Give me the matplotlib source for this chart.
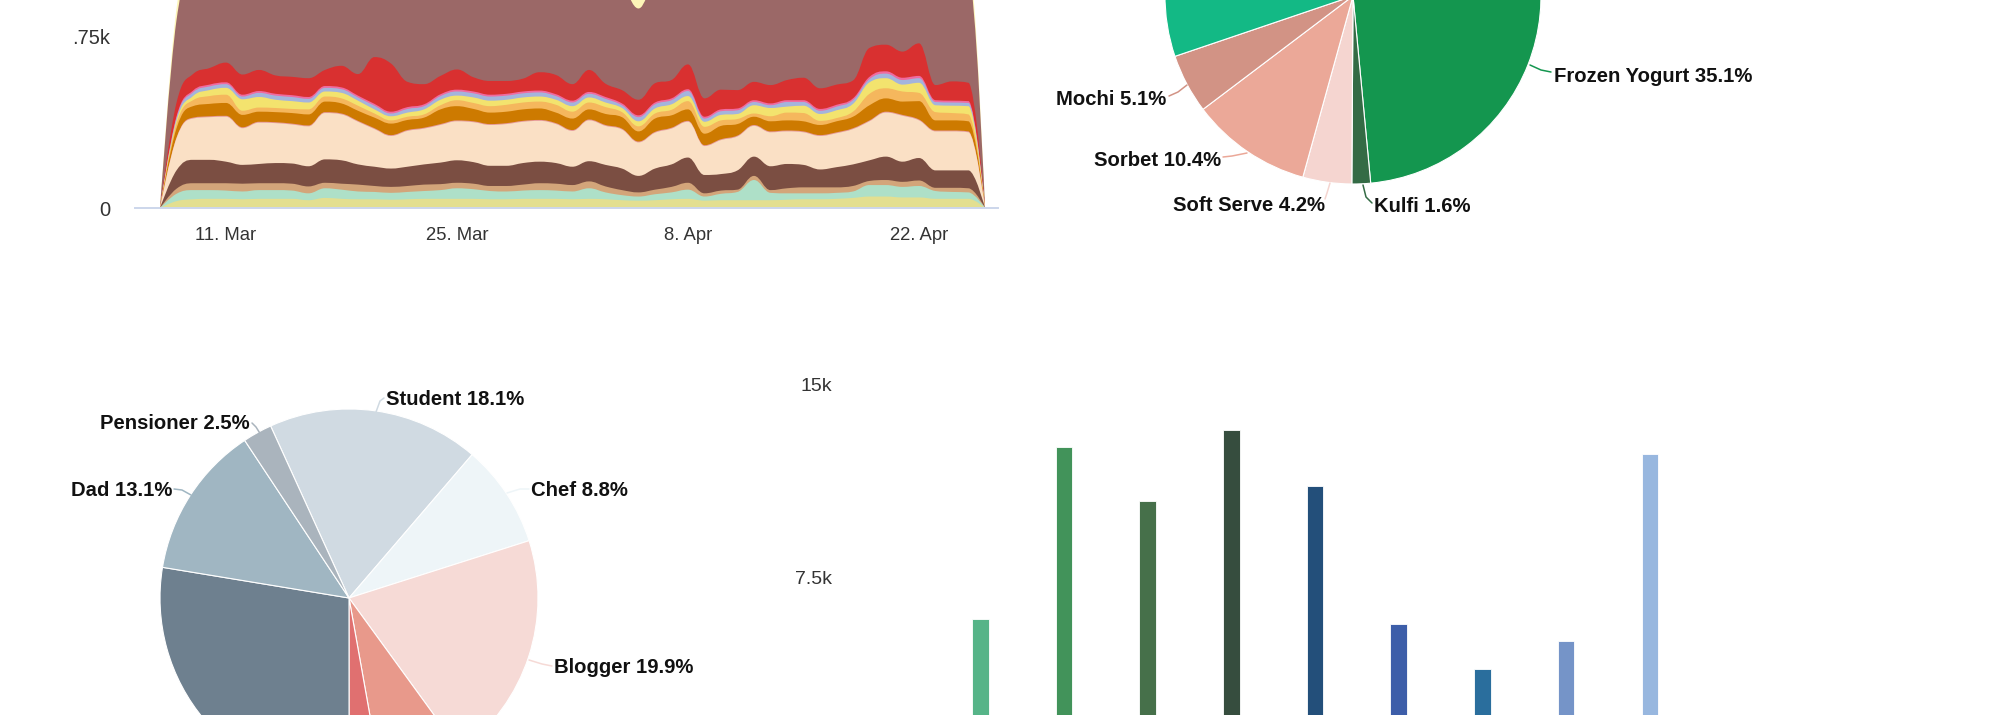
import datetime as dt
import numpy as np
import matplotlib
matplotlib.use("Agg")
import matplotlib.pyplot as plt
import matplotlib.dates as mdates
from matplotlib.path import Path
from matplotlib.patches import PathPatch

plt.rcParams['font.family'] = ['Liberation Sans', 'DejaVu Sans']

# ---------------------------------------------------------------- data
first_day = dt.datetime(2024, 3, 7)
days = [first_day + dt.timedelta(days=i) for i in range(51)]

lime = [0, 150, 190, 200, 200, 190, 200, 200, 200, 170, 220, 200, 190, 190, 180, 190, 200, 200, 200, 200,
        190, 190, 200, 200, 200, 190, 200, 190, 170, 160, 170, 190, 200, 160, 170, 170, 170, 170, 180, 190,
        190, 200, 220, 250, 250, 230, 230, 200, 200, 200, 0]
mint = [0, 160, 200, 190, 180, 170, 190, 190, 180, 150, 210, 200, 170, 160, 150, 160, 170, 190, 230, 210,
        180, 170, 180, 190, 180, 170, 230, 150, 110, 90, 130, 150, 200, 90, 140, 180, 440, 160, 140, 130,
        130, 130, 140, 250, 250, 230, 250, 170, 150, 140, 0]
tan = [0, 110, 150, 150, 160, 170, 150, 150, 150, 150, 120, 130, 150, 130, 130, 130, 140, 130, 120, 120,
       110, 120, 130, 150, 150, 140, 150, 130, 110, 90, 100, 120, 150, 70, 70, 50, 90, 60, 110, 130,
       130, 120, 120, 90, 110, 110, 120, 70, 90, 90, 0]
cocoa = [0, 400, 510, 510, 470, 410, 420, 440, 440, 440, 510, 510, 440, 420, 400, 420, 440, 470, 490, 470,
         440, 440, 470, 470, 450, 400, 440, 470, 470, 360, 460, 490, 550, 400, 360, 420, 420, 520, 530, 490,
         390, 440, 470, 450, 510, 440, 490, 380, 380, 390, 0]
peach = [0, 700, 900, 930, 980, 800, 900, 870, 850, 870, 1010, 1000, 930, 820, 710, 780, 780, 820, 850, 870,
         890, 910, 900, 890, 850, 780, 890, 850, 850, 730, 780, 780, 780, 630, 740, 740, 670, 740, 710, 710,
         730, 740, 770, 850, 960, 1000, 820, 850, 850, 830, 0]
rose = [0, 15, 20, 20, 20, 20, 20, 20, 20, 20, 20, 20, 20, 20, 20, 20, 20, 20, 20, 20,
        20, 20, 20, 20, 20, 20, 20, 20, 20, 20, 20, 20, 20, 20, 20, 20, 20, 20, 20, 20,
        20, 20, 20, 20, 20, 20, 20, 20, 20, 20, 0]
caramel = [0, 200, 250, 270, 280, 270, 220, 220, 230, 240, 230, 220, 220, 230, 250, 220, 220, 320, 310, 270,
           250, 250, 250, 250, 230, 250, 220, 240, 250, 220, 290, 270, 250, 250, 290, 250, 180, 220, 220, 220,
           220, 240, 250, 330, 290, 290, 400, 220, 220, 220, 0]
apricot = [0, 100, 130, 170, 180, 90, 90, 90, 90, 110, 110, 110, 110, 90, 70, 70, 70, 90, 130, 130,
           140, 150, 150, 150, 170, 150, 150, 150, 110, 110, 110, 120, 180, 150, 120, 110, 70, 110, 170, 180,
           90, 70, 110, 250, 220, 220, 180, 180, 160, 150, 0]
lemon = [0, 70, 90, 130, 150, 250, 230, 180, 170, 150, 110, 120, 110, 90, 90, 90, 110, 120, 100, 120,
         120, 110, 110, 110, 110, 120, 110, 100, 90, 110, 110, 120, 110, 110, 120, 110, 180, 180, 130, 160,
         150, 170, 170, 250, 220, 150, 220, 150, 160, 180, 0]
blueberry = [0, 60, 80, 80, 80, 60, 90, 90, 90, 80, 80, 80, 70, 80, 60, 80, 70, 80, 90, 90,
             90, 90, 90, 90, 80, 80, 80, 80, 60, 90, 90, 90, 110, 70, 80, 80, 70, 60, 100, 80,
             70, 80, 80, 70, 100, 100, 100, 70, 70, 70, 0]
bubblegum = [0, 30, 40, 40, 40, 40, 40, 40, 40, 40, 40, 40, 40, 40, 40, 40, 40, 40, 40, 40,
             40, 40, 40, 40, 40, 40, 40, 40, 40, 40, 40, 40, 40, 40, 40, 40, 40, 40, 40, 40,
             40, 40, 40, 50, 50, 50, 50, 40, 40, 40, 0]
cherry = [0, 300, 360, 360, 430, 440, 460, 400, 400, 410, 350, 470, 470, 1020, 1050, 550, 440, 400, 440, 310,
          300, 280, 280, 400, 420, 360, 480, 290, 290, 340, 420, 400, 540, 400, 430, 400, 400, 400, 440, 490,
          450, 440, 390, 630, 580, 570, 710, 330, 420, 400, 0]
plum = [0, 1800, 2200, 2150, 2100, 2250, 2200, 2250, 2300, 2300, 2200, 2150, 2250, 2000, 2050, 2350, 2400, 2300, 2200, 2300,
        2350, 2350, 2300, 2200, 2250, 2350, 2150, 2300, 2300, 1990, 2250, 2300, 2100, 2650, 2500, 2500, 2350, 2400, 2350, 2300,
        2450, 2400, 2350, 1700, 1650, 1750, 1600, 2400, 2350, 2350, 0]
cream = [0, 250, 300, 300, 300, 300, 300, 300, 300, 300, 300, 300, 300, 300, 300, 300, 300, 300, 300, 300,
         300, 300, 300, 300, 300, 300, 300, 300, 300, 300, 300, 300, 300, 300, 300, 300, 300, 300, 300, 300,
         300, 300, 300, 300, 300, 300, 300, 300, 300, 300, 0]

stream_series = [lime, mint, tan, cocoa, peach, rose, caramel, apricot, lemon, blueberry, bubblegum, cherry, plum, cream]
stream_colors = ['#e3df90', '#aee0c8', '#d3a57a', '#7b4e42', '#fae0c5', '#e79a9a', '#cd7a00',
                 '#f5b75d', '#f3e36e', '#a4b4dc', '#f06ba0', '#d93030', '#9b6867', '#fdf5b8']
stream_ticks = [0, 3750]
stream_tick_labels = ['0', '.75k']
date_ticks = [dt.datetime(2024, 3, 11), dt.datetime(2024, 3, 25), dt.datetime(2024, 4, 8), dt.datetime(2024, 4, 22)]

treat_names = ['Gelato', 'Frozen Yogurt', 'Kulfi', 'Soft Serve', 'Sorbet', 'Mochi', 'Ice Cream', 'Sundae']
treat_share = [13.4, 35.1, 1.6, 4.2, 10.4, 5.1, 21.7, 8.5]
treat_colors = ['#2e8b57', '#14964f', '#346b45', '#f5d5d0', '#eba898', '#d29385', '#13b985', '#0b7a5a']

buyer_names = ['Student', 'Chef', 'Blogger', 'Teacher', 'Athlete', 'Mom', 'Dad', 'Pensioner']
buyer_share = [18.1, 8.8, 19.9, 7.2, 2.8, 27.6, 13.1, 2.5]
buyer_colors = ['#d0dae2', '#eef5f8', '#f6dad6', '#e8998b', '#e07070', '#6e808f', '#a0b6c2', '#aab4bd']

shops = ['Harbor', 'Old Town', 'Riverside', 'Market', 'Station', 'Campus', 'Mall', 'Beach', 'Airport']
shop_sales = [5870, 12590, 10490, 13250, 11040, 5710, 3930, 5050, 12280]
shop_colors = ['#56b488', '#42935a', '#46704a', '#364d3e', '#234f7a', '#3d5ea9', '#2a6e9d', '#7594c8', '#98b7df']
bar_ticks = [7500, 15000]
bar_tick_labels = ['7.5k', '15k']

# ---------------------------------------------------------------- layout helpers
W, H = 2000, 715
fig = plt.figure(figsize=(W / 100, H / 100), dpi=100)


def box(left, top, right, bottom):
    """Pixel rectangle measured from the top-left corner -> figure fraction rect."""
    return [left / W, (H - bottom) / H, (right - left) / W, (bottom - top) / H]


def spline_controls(x, y, smoothing=1.5):
    """Bezier control points for a smooth curve through (x, y) without false extremes."""
    n = len(x)
    lc = np.column_stack([x, y]).astype(float)
    rc = lc.copy()
    for i in range(1, n - 1):
        d = smoothing + 1
        lx = (smoothing * x[i] + x[i - 1]) / d
        ly = (smoothing * y[i] + y[i - 1]) / d
        rx = (smoothing * x[i] + x[i + 1]) / d
        ry = (smoothing * y[i] + y[i + 1]) / d
        corr = (ry - ly) * (rx - x[i]) / (rx - lx) + y[i] - ry
        ly += corr
        ry += corr
        if ly > y[i - 1] and ly > y[i]:
            ly = max(y[i - 1], y[i]); ry = 2 * y[i] - ly
        elif ly < y[i - 1] and ly < y[i]:
            ly = min(y[i - 1], y[i]); ry = 2 * y[i] - ly
        if ry > y[i + 1] and ry > y[i]:
            ry = max(y[i + 1], y[i]); ly = 2 * y[i] - ry
        elif ry < y[i + 1] and ry < y[i]:
            ry = min(y[i + 1], y[i]); ly = 2 * y[i] - ry
        lc[i] = (lx, ly)
        rc[i] = (rx, ry)
    return lc, rc


def area_path(x, top):
    lc, rc = spline_controls(x, top)
    verts = [(x[0], 0.0), (x[0], top[0])]
    codes = [Path.MOVETO, Path.LINETO]
    for i in range(len(x) - 1):
        verts += [tuple(rc[i]), tuple(lc[i + 1]), (x[i + 1], top[i + 1])]
        codes += [Path.CURVE4] * 3
    verts += [(x[-1], 0.0), (x[0], 0.0)]
    codes += [Path.LINETO, Path.CLOSEPOLY]
    return Path(verts, codes)


axis_color = '#333333'

# ---------------------------------------------------------------- stacked spline areas
ax1 = fig.add_axes(box(135, 0, 998, 208))
xd = mdates.date2num(days)
tops = np.cumsum(np.array(stream_series, dtype=float), axis=0)
for k in range(len(stream_series) - 1, -1, -1):
    ax1.add_patch(PathPatch(area_path(xd, tops[k]), facecolor=stream_colors[k],
                            edgecolor='none', lw=0, zorder=1))
ax1.set_xlim(xd[0] - 25 / 16.5, xd[-1] + 13 / 16.5)
ax1.set_ylim(0, 208 * 3750 / 172)
for s in ('top', 'right', 'left'):
    ax1.spines[s].set_visible(False)
ax1.spines['bottom'].set_color('#ccd6eb')
ax1.spines['bottom'].set_linewidth(1.4)
ax1.spines['bottom'].set_zorder(3)
ax1.set_xticks(mdates.date2num(date_ticks))
ax1.set_xticklabels([f"{d.day}. {d:%b}" for d in date_ticks])
ax1.set_yticks(stream_ticks)
ax1.set_yticklabels(stream_tick_labels)
ax1.tick_params(axis='x', length=0, pad=13.5, labelsize=13.3, labelcolor=axis_color)
ax1.tick_params(axis='y', length=0, pad=18, labelsize=14.5, labelcolor=axis_color)
ax1.set_facecolor('none')

# ---------------------------------------------------------------- pies
label_style = dict(fontsize=14.6, fontweight='bold', color='#111111')


def draw_pie(rect, values, names, colors, radius, startangle, placed):
    ax = fig.add_axes(rect)
    ax.pie(values, colors=colors, radius=radius, startangle=startangle, counterclock=False,
           wedgeprops=dict(edgecolor='white', linewidth=0.8))
    ax.set_xlim(-300, 300)
    ax.set_ylim(-300, 300)
    ax.axis('off')
    for name, v, c in zip(names, values, colors):
        if name not in placed:
            continue
        tx, ty, ha, conn = placed[name]
        cx, cy = zip(*conn)
        ax.plot(cx, cy, color=c, lw=1.1, solid_capstyle='round', zorder=2)
        ax.text(tx, ty, f"{name} {v:.1f}%", ha=ha, va='baseline', zorder=3, **label_style)
    return ax


treat_labels = {
    'Frozen Yogurt': (201, -86, 'left', [(177, -69), (188, -74), (198, -76)]),
    'Mochi': (-187, -109, 'right', [(-166, -89), (-175, -96), (-184, -100)]),
    'Sorbet': (-132, -170, 'right', [(-106, -157), (-121, -160), (-130, -161)]),
    'Soft Serve': (-28, -215, 'right', [(-23, -187), (-26, -197), (-28, -203)]),
    'Kulfi': (21, -216, 'left', [(10, -189), (13, -201), (19, -207)]),
}
draw_pie(box(1053, -304, 1653, 296), treat_share, treat_names, treat_colors, 188, 90, treat_labels)

buyer_labels = {
    'Student': (37, 193, 'left', [(27, 186), (31, 197), (35, 200)]),
    'Pensioner': (-99, 169, 'right', [(-88, 163), (-93, 171), (-97, 175)]),
    'Dad': (-177, 102, 'right', [(-158, 103), (-167, 108), (-175, 109)]),
    'Chef': (182, 102, 'left', [(158, 105), (171, 109), (180, 109)]),
    'Blogger': (205, -75, 'left', [(180, -62), (193, -66), (203, -68)]),
}
draw_pie(box(49, 298, 649, 898), buyer_share, buyer_names, buyer_colors, 189, 114.5, buyer_labels)

# ---------------------------------------------------------------- columns
ax4 = fig.add_axes(box(855, 300, 1900, 770.5))
ax4.bar(shops, shop_sales, width=0.197, color=shop_colors, edgecolor='white', linewidth=0.6)
ax4.set_xlim(-1.497, 10.99)
ax4.set_ylim(0, 470.5 * 7500 / 193)
ax4.set_yticks(bar_ticks)
ax4.set_yticklabels(bar_tick_labels)
ax4.tick_params(axis='both', length=0, labelsize=14, labelcolor=axis_color)
ax4.tick_params(axis='x', labelbottom=False)
ax4.tick_params(axis='y', pad=16.6)
for s in ax4.spines.values():
    s.set_visible(False)
ax4.set_facecolor('none')

fig.savefig('out.png', dpi=100, facecolor='white')
